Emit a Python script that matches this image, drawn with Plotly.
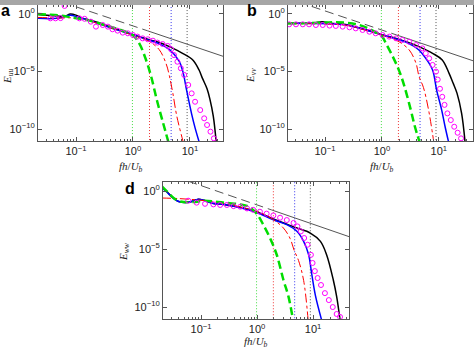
import numpy as np
import plotly.graph_objects as go

# ---------------- data (log10 values) ----------------
# panel a : E_uu
a_green_logf = [-1.67, -1.5, -1.3, -1.1, -0.9, -0.7, -0.5, -0.3, -0.1, 0.0, 0.11, 0.23, 0.32, 0.42, 0.53, 0.62]
a_green_logE = [0.0, -0.05, -0.12, -0.28, -0.45, -0.65, -0.95, -1.25, -1.6, -1.85, -2.55, -4.0, -5.45, -7.5, -9.5, -11.1]
a_red_logf = [-1.67, -1.3, -1.0, -0.7, -0.4, -0.2, 0.0, 0.15, 0.29, 0.46, 0.58, 0.64, 0.7, 0.77, 0.88]
a_red_logE = [-0.3, -0.35, -0.35, -0.7, -1.2, -1.5, -1.85, -2.1, -2.4, -3.1, -4.3, -5.4, -6.9, -8.9, -11.1]
a_blue_logf = [-1.67, -1.4, -1.25, -1.1, -0.95, -0.8, -0.6, -0.4, -0.2, 0.0, 0.2, 0.46, 0.64, 0.81, 0.88, 0.94, 1.03, 1.09, 1.16]
a_blue_logE = [-0.38, -0.4, -0.3, -0.12, -0.3, -0.5, -0.85, -1.2, -1.5, -1.8, -2.15, -2.6, -3.1, -4.1, -5.1, -6.6, -8.7, -9.9, -11.1]
a_black_logf = [-1.67, -1.4, -1.2, -1.1, -1.0, -0.9, -0.7, -0.5, -0.3, -0.1, 0.1, 0.3, 0.5, 0.64, 0.87, 1.05, 1.16, 1.22, 1.3, 1.35, 1.41, 1.46]
a_black_logE = [-0.05, -0.15, -0.2, 0.0, -0.1, -0.35, -0.6, -0.95, -1.3, -1.65, -1.95, -2.25, -2.55, -2.84, -3.42, -4.0, -4.87, -5.6, -6.5, -7.4, -8.9, -11.1]
a_circ_logf = [-1.45, -1.36, -1.27, -1.2, -0.94, -0.85, -0.74, -0.65, -0.53, -0.44, -0.36, -0.27, -0.18, -0.09, 0.0, 0.08,
               0.17, 0.26, 0.35, 0.43, 0.52, 0.61, 0.67, 0.72, 0.78, 0.84, 0.9, 0.97, 1.03, 1.09, 1.18, 1.25, 1.3, 1.36, 1.42]
a_circ_logE = [-0.38, -0.38, -0.36, 0.7, -0.38, -0.42, -0.67, -1.1, -0.96, -1.1, -1.33, -1.45, -1.62, -1.68, -1.83, -1.97,
               -2.12, -2.2, -2.32, -2.49, -2.61, -2.78, -3.07, -3.57, -4.15, -4.72, -5.3, -6.17, -6.9, -7.63, -8.35, -9.07, -9.65, -10.23, -10.81]
a_ref_dash_logf = [-1.7, 0.26]
a_ref_dash_logE = [1.79, -1.47]
a_ref_solid_logf = [0.26, 1.6]
a_ref_solid_logE = [-1.47, -3.71]

# panel b : E_vv
b_green_logf = [-1.65, -1.3, -1.0, -0.8, -0.6, -0.4, -0.2, 0.0, 0.07, 0.19, 0.3, 0.39, 0.5, 0.58, 0.66]
b_green_logE = [-0.8, -0.8, -0.75, -0.72, -0.78, -0.95, -1.35, -1.95, -2.55, -3.7, -4.9, -6.2, -8.2, -9.8, -11.1]
b_red_logf = [-1.65, -1.0, -0.6, -0.3, 0.0, 0.15, 0.3, 0.48, 0.6, 0.65, 0.73, 0.82, 0.91]
b_red_logE = [-0.85, -0.87, -1.0, -1.4, -1.82, -2.1, -2.41, -3.13, -4.3, -5.4, -6.4, -8.35, -11.1]
b_blue_logf = [-1.65, -1.2, -0.9, -0.6, -0.3, 0.0, 0.2, 0.42, 0.65, 0.77, 0.89, 0.96, 1.05, 1.11, 1.17]
b_blue_logE = [-0.82, -0.82, -0.85, -0.97, -1.37, -1.8, -2.1, -2.45, -3.13, -3.86, -4.87, -6.6, -8.35, -9.8, -11.1]
b_black_logf = [-1.65, -1.2, -1.05, -0.9, -0.6, -0.3, 0.0, 0.25, 0.45, 0.65, 0.89, 1.06, 1.18, 1.25, 1.32, 1.4, 1.46]
b_black_logE = [-0.8, -0.78, -0.68, -0.8, -0.95, -1.35, -1.8, -2.12, -2.45, -2.84, -3.42, -4.0, -5.16, -6.0, -6.9, -8.64, -11.1]
b_circ_logf = [-1.63, -1.51, -1.39, -1.28, -1.16, -1.04, -0.92, -0.81, -0.69, -0.57, -0.46, -0.34, -0.22, -0.11, 0.01, 0.13,
               0.25, 0.36, 0.48, 0.6, 0.71, 0.77, 0.83, 0.89, 0.95, 0.98, 1.02, 1.06, 1.1, 1.15, 1.21, 1.27, 1.33, 1.39]
b_circ_logE = [-0.9, -0.9, -0.9, -0.9, -0.96, -0.96, -1.01, -1.04, -1.1, -1.16, -1.25, -1.39, -1.54, -1.68, -1.83, -1.97,
               -2.12, -2.26, -2.41, -2.7, -2.99, -3.42, -3.86, -4.43, -5.01, -5.7, -6.5, -7.2, -7.9, -8.64, -9.22, -9.8, -10.32, -10.81]
b_ref_dash_logf = [-1.7, 0.26]
b_ref_dash_logE = [1.43, -1.83]
b_ref_solid_logf = [0.26, 1.62]
b_ref_solid_logE = [-1.83, -4.1]

# panel d : E_ww
d_green_logf = [-1.70, -1.61, -1.49, -1.38, -1.14, -0.96, -0.78, -0.54, -0.3, -0.15, 0.0, 0.11, 0.23, 0.35, 0.47, 0.56, 0.64]
d_green_logE = [0.4, -0.03, -0.6, -0.89, -0.95, -0.84, -0.89, -1.03, -1.15, -1.35, -2.0, -2.9, -4.05, -5.49, -7.67, -9.1, -11.1]
d_red_logf = [-1.70, -1.4, -1.1, -0.8, -0.5, -0.2, 0.0, 0.29, 0.47, 0.59, 0.66, 0.74, 0.83, 0.91]
d_red_logE = [-0.6, -0.65, -0.75, -0.9, -1.15, -1.5, -1.75, -2.47, -3.19, -4.1, -5.1, -6.0, -7.7, -11.1]
d_blue_logf = [-1.70, -1.6, -1.5, -1.4, -1.2, -1.05, -0.95, -0.8, -0.54, -0.07, 0.29, 0.53, 0.71, 0.83, 0.92, 0.97, 1.04, 1.15]
d_blue_logE = [0.3, -0.15, -0.6, -0.9, -0.95, -0.7, -0.8, -1.05, -1.18, -1.75, -2.47, -2.9, -3.47, -4.34, -5.49, -7.0, -9.0, -11.1]
d_black_logf = [-1.70, -1.6, -1.5, -1.4, -1.2, -1.05, -0.95, -0.8, -0.6, -0.3, 0.0, 0.29, 0.53, 0.71, 0.95, 1.13, 1.24, 1.36, 1.42, 1.48]
d_black_logE = [0.35, -0.1, -0.6, -0.9, -0.95, -0.7, -0.8, -1.05, -1.15, -1.4, -1.8, -2.4, -2.85, -3.19, -3.62, -4.34, -5.49, -7.67, -9.1, -11.1]
d_circ_logf = [-1.23, -1.08, -0.93, -0.78, -0.66, -0.54, -0.42, -0.30, -0.18, -0.07, 0.05, 0.17, 0.29, 0.41, 0.53,
               0.65, 0.72, 0.78, 0.84, 0.90, 0.96, 0.99, 1.03, 1.08, 1.14, 1.21, 1.28, 1.35, 1.42, 1.48]
d_circ_logE = [-0.83, -1.0, -1.1, -1.15, -1.2, -1.2, -1.3, -1.35, -1.5, -1.62, -1.78, -1.95, -2.1, -2.3, -2.5,
               -2.75, -3.05, -3.48, -4.05, -4.63, -5.5, -6.2, -6.9, -7.5, -8.1, -8.8, -9.4, -10.0, -10.6, -10.85]
d_ref_dash_logf = [-1.7, 0.26]
d_ref_dash_logE = [1.63, -1.63]
d_ref_solid_logf = [0.26, 1.64]
d_ref_solid_logE = [-1.63, -3.93]

# vertical dotted cut-off lines (same in every panel)
vline_logf = [-0.01, 0.29, 0.67, 0.95]
vline_colors = ["#44dd44", "#ee3333", "#3333ee", "#555555"]

x_tickvals = [0.1, 1, 10]
x_ticktext = ["10<sup>−1</sup>", "10<sup>0</sup>", "10<sup>1</sup>"]
y_tickvals = [1e-10, 1e-5, 1]
y_ticktext = ["10<sup>−10</sup>", "10<sup>−5</sup>", "10<sup>0</sup>"]

W, H = 474, 349


def p(v):
    return list(10.0 ** np.asarray(v, dtype=float))


fig = go.Figure()

panels = [
    dict(sfx="", curves=(a_green_logf, a_green_logE, a_red_logf, a_red_logE, a_blue_logf, a_blue_logE,
                         a_black_logf, a_black_logE, a_circ_logf, a_circ_logE),
         ref=(a_ref_dash_logf, a_ref_dash_logE, a_ref_solid_logf, a_ref_solid_logE)),
    dict(sfx="2", curves=(b_green_logf, b_green_logE, b_red_logf, b_red_logE, b_blue_logf, b_blue_logE,
                          b_black_logf, b_black_logE, b_circ_logf, b_circ_logE),
         ref=(b_ref_dash_logf, b_ref_dash_logE, b_ref_solid_logf, b_ref_solid_logE)),
    dict(sfx="3", curves=(d_green_logf, d_green_logE, d_red_logf, d_red_logE, d_blue_logf, d_blue_logE,
                          d_black_logf, d_black_logE, d_circ_logf, d_circ_logE),
         ref=(d_ref_dash_logf, d_ref_dash_logE, d_ref_solid_logf, d_ref_solid_logE)),
]

for pn in panels:
    xa, ya = "x" + pn["sfx"], "y" + pn["sfx"]
    gf, gE, rf, rE, bf, bE, kf, kE, cf, cE = pn["curves"]
    # vertical dotted lines
    for lf, col in zip(vline_logf, vline_colors):
        fig.add_trace(go.Scatter(x=p([lf, lf]), y=[1e-12, 1e2], mode="lines", xaxis=xa, yaxis=ya,
                                 line=dict(color=col, width=1, dash="1px,2px"), showlegend=False, hoverinfo="skip"))
    # -5/3 reference line
    df, dE, sf, sE = pn["ref"]
    fig.add_trace(go.Scatter(x=p(df), y=p(dE), mode="lines", xaxis=xa, yaxis=ya,
                             line=dict(color="#555555", width=1, dash="9px,5px"), showlegend=False))
    fig.add_trace(go.Scatter(x=p(sf), y=p(sE), mode="lines", xaxis=xa, yaxis=ya,
                             line=dict(color="#555555", width=1), showlegend=False))
    # spectra
    fig.add_trace(go.Scatter(x=p(kf), y=p(kE), mode="lines", xaxis=xa, yaxis=ya, line_shape="spline",
                             line=dict(color="#000000", width=1.5), showlegend=False))
    fig.add_trace(go.Scatter(x=p(bf), y=p(bE), mode="lines", xaxis=xa, yaxis=ya, line_shape="spline",
                             line=dict(color="#0000ff", width=1.5), showlegend=False))
    fig.add_trace(go.Scatter(x=p(rf), y=p(rE), mode="lines", xaxis=xa, yaxis=ya, line_shape="spline",
                             line=dict(color="#ff0000", width=1, dash="dashdot"), showlegend=False))
    fig.add_trace(go.Scatter(x=p(gf), y=p(gE), mode="lines", xaxis=xa, yaxis=ya, line_shape="spline",
                             line=dict(color="#00dd00", width=2.5, dash="8px,4px"), showlegend=False))
    fig.add_trace(go.Scatter(x=p(cf), y=p(cE), mode="markers", xaxis=xa, yaxis=ya,
                             marker=dict(symbol="circle-open", size=5, color="#ff00ff", line=dict(width=1)),
                             showlegend=False))

minor_x = [k * 10.0 ** e for e in range(-2, 2) for k in range(2, 10)]

ax_common = dict(type="log", showline=True, mirror="ticks", linecolor="#555555", linewidth=1,
                 ticks="inside", ticklen=4, tickcolor="#555555", showgrid=False, zeroline=False,
                 tickfont=dict(family="Liberation Sans, Arial", size=11, color="#222222"))


def xdom(l, r):
    return [l / W, r / W]


def ydom(t, b):
    return [1 - b / H, 1 - t / H]


layout_axes = {}
specs = [("", xdom(38, 223), ydom(5, 141), [-1.667, 1.58], [-11.04, 0.78]),
         ("2", xdom(288, 473), ydom(5, 141), [-1.65, 1.6], [-11.04, 0.78]),
         ("3", xdom(163, 349), ydom(182, 319), [-1.68, 1.64], [-11.03, 0.78])]
for sfx, xd, yd, xr, yr in specs:
    layout_axes["xaxis" + sfx] = dict(ax_common, domain=xd, range=xr, anchor="y" + sfx,
                                      tickvals=x_tickvals, ticktext=x_ticktext,
                                      minor=dict(tickvals=minor_x, ticks="inside", ticklen=2, tickcolor="#555555"))
    layout_axes["yaxis" + sfx] = dict(ax_common, domain=yd, range=yr, anchor="x" + sfx,
                                      tickvals=y_tickvals, ticktext=y_ticktext)

serif = dict(family="Liberation Serif, Times New Roman", size=11, color="#222222")
bold = dict(family="Liberation Sans, Arial", size=16, color="#000000")


def ann(text, x, y, font, angle=0, xanchor="center", yanchor="middle"):
    return dict(text=text, x=x / W, y=1 - y / H, xref="paper", yref="paper", showarrow=False,
                font=font, textangle=angle, xanchor=xanchor, yanchor=yanchor)


annotations = [
    ann("<b>a</b>", -1, 0, bold, xanchor="left", yanchor="top"),
    ann("<b>b</b>", 245, 0, bold, xanchor="left", yanchor="top"),
    ann("<b>d</b>", 123, 178, bold, xanchor="left", yanchor="top"),
    ann("<i>fh</i>/<i>U</i><sub><i>b</i></sub>", 131, 167, serif),
    ann("<i>fh</i>/<i>U</i><sub><i>b</i></sub>", 382, 167, serif),
    ann("<i>fh</i>/<i>U</i><sub><i>b</i></sub>", 256, 342, serif),
    ann("<i>E</i><sub><i>uu</i></sub>", 8, 76, serif, angle=-90),
    ann("<i>E</i><sub><i>vv</i></sub>", 251, 76, serif, angle=-90),
    ann("<i>E</i><sub><i>ww</i></sub>", 124, 252, serif, angle=-90),
]

fig.update_layout(width=W, height=H, margin=dict(l=0, r=0, t=0, b=0),
                  paper_bgcolor="white", plot_bgcolor="white", showlegend=False,
                  annotations=annotations,
                  shapes=[dict(type="rect", xref="paper", yref="paper", x0=0, x1=1, y0=1 - 5 / H, y1=1,
                               fillcolor="#a6a6a6", line=dict(width=0), layer="above")],
                  **layout_axes)

fig.write_html("out.html")
